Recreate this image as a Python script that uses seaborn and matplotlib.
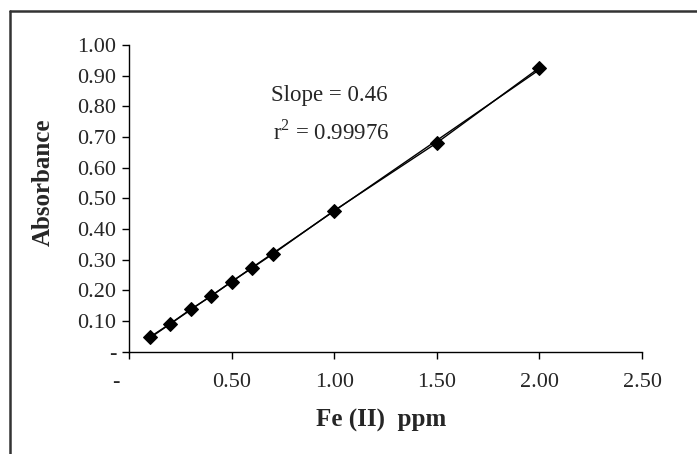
import numpy as np
import pandas as pd
import matplotlib
matplotlib.use("Agg")
import matplotlib.pyplot as plt
import seaborn as sns
from matplotlib.lines import Line2D
from matplotlib.transforms import ScaledTranslation

# ---- data ----
conc_ppm = [0.1, 0.2, 0.3, 0.4, 0.5, 0.6, 0.7, 1.0, 1.5, 2.0]
absorbance = [0.047, 0.091, 0.138, 0.181, 0.228, 0.273, 0.318, 0.460, 0.681, 0.926]
x_ticks = [0.0, 0.5, 1.0, 1.5, 2.0, 2.5]
x_tick_labels = ["-", "0.50", "1.00", "1.50", "2.00", "2.50"]
y_ticks = [0.0, 0.1, 0.2, 0.3, 0.4, 0.5, 0.6, 0.7, 0.8, 0.9, 1.0]
y_tick_labels = ["-", "0.10", "0.20", "0.30", "0.40", "0.50", "0.60", "0.70", "0.80", "0.90", "1.00"]
slope_text = "Slope = 0.46"
r2_text = "r$^2$ = 0.99976"
x_label = "Fe (II)  ppm"
y_label = "Absorbance"

df = pd.DataFrame({"conc": conc_ppm, "abs": absorbance})

sns.set_style("white")
plt.rcParams["font.family"] = ["Liberation Serif", "DejaVu Serif"]
plt.rcParams["mathtext.fontset"] = "custom"
plt.rcParams["mathtext.rm"] = "Liberation Serif"

fig = plt.figure(figsize=(6.97, 4.54), dpi=100)
ax = fig.add_axes([129 / 697, 1 - 351.7 / 454, (642 - 129) / 697, (351.7 - 45) / 454])

# trendline (linear fit)
sns.regplot(data=df, x="conc", y="abs", scatter=False, ci=None, truncate=True,
            color="black", line_kws={"lw": 1.0}, ax=ax)
# data series
sns.lineplot(data=df, x="conc", y="abs", color="black", lw=1.0, marker="D",
             markersize=7.5, markeredgecolor="black", markerfacecolor="black", ax=ax)

ax.set_xlim(0, 2.5)
ax.set_ylim(0, 1.0)
ax.set_xticks(x_ticks)
ax.set_xticklabels(x_tick_labels, fontsize=16)
ax.set_yticks(y_ticks)
ax.set_yticklabels(y_tick_labels, fontsize=16)
ax.tick_params(axis="both", direction="out", length=5, width=1, color="black",
               bottom=True, left=True, pad=4)
ax.tick_params(axis="x", pad=10)
# shift the "-" zero label on x like the reference
lbl0 = ax.get_xticklabels()[0]
lbl0.set_transform(lbl0.get_transform() + ScaledTranslation(-0.13, 0, fig.dpi_scale_trans))

for s in ["top", "right"]:
    ax.spines[s].set_visible(False)
for s in ["left", "bottom"]:
    ax.spines[s].set_color("black")
    ax.spines[s].set_linewidth(1.0)

ax.set_xlabel("")
ax.set_ylabel("")
fig.text(381 / 697, 1 - 420 / 454, x_label, ha="center", va="center",
         fontsize=18, fontweight="bold")
fig.text(43 / 697, 1 - 182 / 454, y_label, ha="center", va="center",
         rotation=90, fontsize=18, fontweight="bold")

fig.text(329 / 697, 1 - 95 / 454, slope_text, ha="center", va="center", fontsize=16.5)
fig.text(331 / 697, 1 - 132 / 454, r2_text, ha="center", va="center", fontsize=16.5)

# outer frame (top and left edges)
fig.add_artist(Line2D([10 / 697, 1.0], [1 - 11 / 454, 1 - 11 / 454],
                      transform=fig.transFigure, color="#333333", lw=1.8))
fig.add_artist(Line2D([10 / 697, 10 / 697], [0.0, 1 - 11 / 454],
                      transform=fig.transFigure, color="#333333", lw=1.8))

fig.savefig("out.png", dpi=100, facecolor="white")
